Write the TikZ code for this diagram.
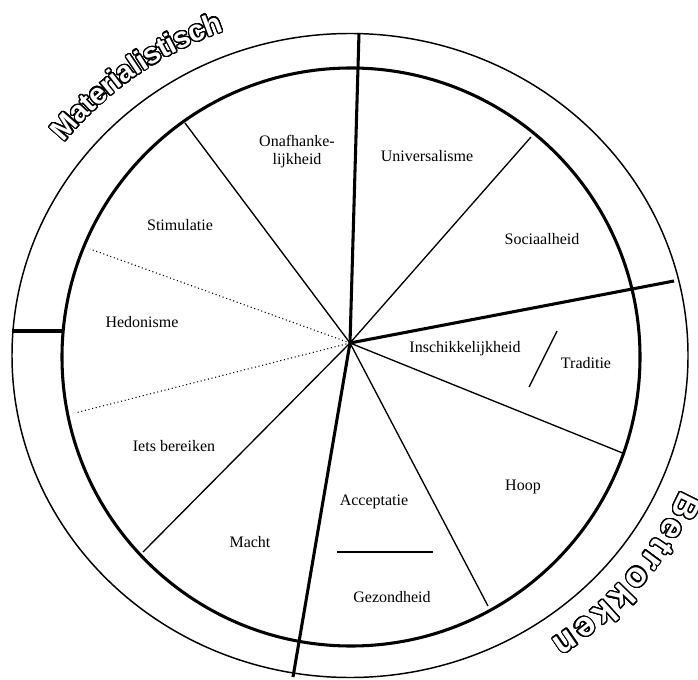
\documentclass[tikz,border=0pt]{standalone}
\usepackage{fontspec}
\setmainfont{Liberation Serif}
\newfontfamily\ringfont{Liberation Sans}
\usepackage{contour}
\contourlength{0.9pt}
\contournumber{32}
\tikzset{
  spoke/.style={line width=1pt},
  mainspoke/.style={line width=2.3pt},
  lbl/.style={inner sep=0.75pt, font=\fontsize{12}{13.5}\selectfont, align=center},
  ringtext/.style={inner sep=0pt, anchor=base, text=white, font=\ringfont\bfseries\fontsize{22}{24}\selectfont}
}

\begin{document}
\begin{tikzpicture}[x=0.75pt,y=0.75pt,yscale=-1,xscale=1]
\useasboundingbox (0,0) rectangle (698,680);

%Rings
\draw [line width=1.1pt] (350,355.5) ellipse [x radius=338, y radius=322];
\draw [line width=2.3pt] (351,357) circle [radius=289];

%Centre and spoke ends
\coordinate (c) at (350,343);
\coordinate (top) at (359,33);
\coordinate (bot) at (293,677);
\coordinate (rgt) at (674,281);
\coordinate (lfo) at (12,331);
\coordinate (lfi) at (62,331);
\coordinate (onst) at (185,123);
\coordinate (unso) at (531,137);
\coordinate (inho) at (625,454);
\coordinate (hoge) at (488,606);
\coordinate (iema) at (143,552);
\coordinate (sthe) at (90,249);
\coordinate (heie) at (75,413);

%Thick spokes
\draw [mainspoke] (c) -- (top);
\draw [mainspoke] (c) -- (bot);
\draw [mainspoke] (c) -- (rgt);
\draw [mainspoke] (lfo) -- (lfi);

%Thin spokes
\draw [spoke] (c) -- (onst);
\draw [spoke] (c) -- (unso);
\draw [spoke] (c) -- (inho);
\draw [spoke] (c) -- (hoge);
\draw [spoke] (c) -- (iema);
\draw [line width=0.8pt, dotted] (c) -- (sthe);
\draw [line width=0.8pt, dotted] (c) -- (heie);

%Small dividers
\coordinate (tr1) at (557,331);
\coordinate (tr2) at (529,387);
\draw [spoke] (tr1) -- (tr2);
\coordinate (ac1) at (337,552);
\coordinate (ac2) at (433,552);
\draw [spoke] (ac1) -- (ac2);

% Text Nodes
\node [lbl] (onaf) at (297,152) {Onafhanke-\\lijkheid};
\node [lbl] (univ) at (427,156) {Universalisme};
\node [lbl] (soci) at (542,239) {Sociaalheid};
\node [lbl] (stim) at (180,225) {Stimulatie};
\node [lbl] (hedo) at (142,322) {Hedonisme};
\node [lbl] (iets) at (174,446) {Iets bereiken};
\node [lbl] (insc) at (465,349) {Inschikkelijkheid};
\node [lbl] (trad) at (586,363) {Traditie};
\node [lbl] (hoop) at (523,487) {Hoop};
\node [lbl] (acce) at (374,502) {Acceptatie};
\node [lbl] (mach) at (250,542) {Macht};
\node [lbl] (gezo) at (392,597) {Gezondheid};

% Ring lettering
\foreach \ch/\t [count=\i] in {M/140,a/136.84,t/134.82,e/132.8,r/130.65,i/129.13,a/127.23,l/125.33,i/124.07,s/122.17,t/120.15,i/118.76,s/116.86,c/114.33,h/111.68}
  \node [ringtext, rotate={atan2(sin(\t)/346,cos(\t)/363)-90}] (mat\i) at ({350+363*cos(\t)},{355.5-346*sin(\t)}) {\contour{black}{\ch}};
\foreach \ch/\t [count=\i] in {B/-25.2,e/-29.36,t/-32.6,r/-35.45,o/-38.96,k/-42.86,k/-46.62,e/-50.39,n/-54.29}
  \node [ringtext, font=\ringfont\bfseries\fontsize{26}{28}\selectfont, rotate={atan2(sin(\t)/343,cos(\t)/360)-90}] (bet\i) at ({350+360*cos(\t)},{355.5-343*sin(\t)}) {\contour{black}{\ch}};

\end{tikzpicture}
\end{document}
